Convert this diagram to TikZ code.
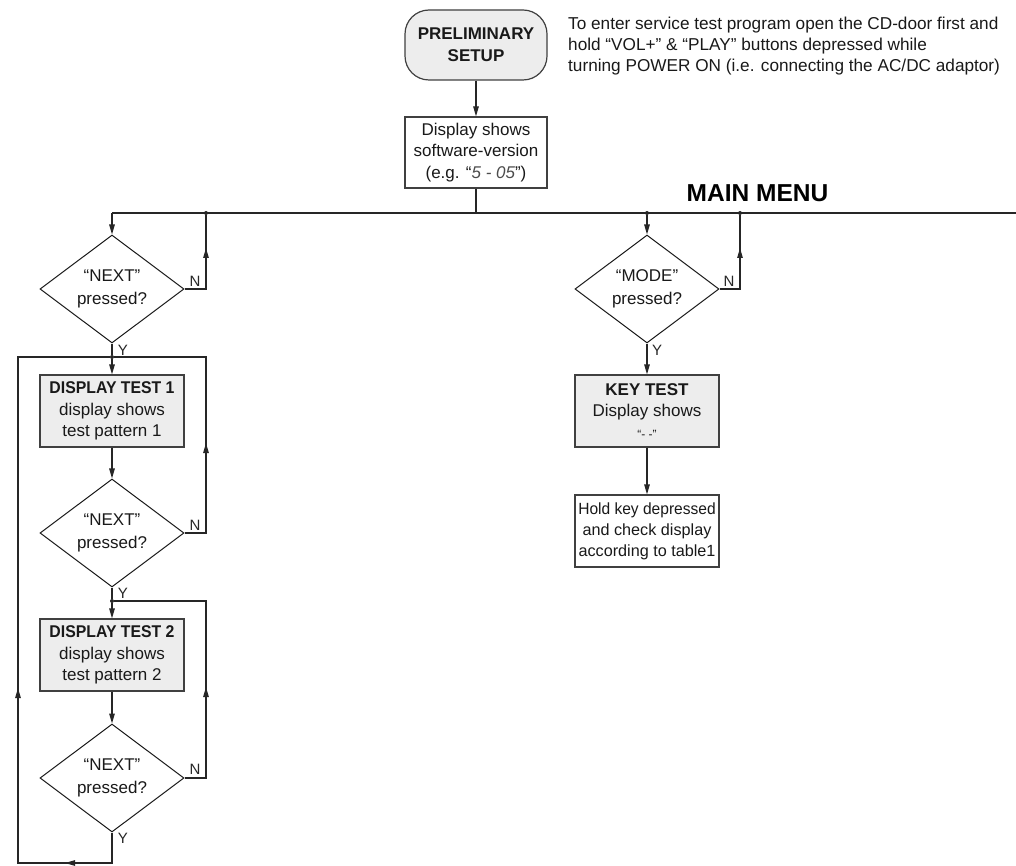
\documentclass[tikz,border=0pt]{standalone}
\usepackage{fontspec}
\setmainfont{Liberation Sans}
\usetikzlibrary{shapes.geometric,arrows.meta}
\begin{document}
\begin{tikzpicture}[x=1pt,y=-1pt,
  line/.style={draw=black!85,line width=1.2pt},
  arr/.style={line,-{Triangle[length=10pt,width=5.5pt]}},
  box/.style={draw=black!75,line width=1.2pt,minimum width=144pt,minimum height=72pt,inner sep=0pt,align=center,text=black!90,font=\fontsize{17}{21.5}\selectfont},
  gbox/.style={box,fill=black!7},
  dec/.style={diamond,draw=black!90,line width=1pt,minimum width=144pt,minimum height=108pt,aspect=1.333,inner sep=0pt,align=center,text=black!90,font=\fontsize{17}{23}\selectfont},
  lab/.style={font=\fontsize{15}{15}\selectfont,inner sep=0pt,text=black!85},
  dot/.style={circle,fill=black!85,inner sep=0pt,minimum size=4pt}
]
\useasboundingbox (0,0) rectangle (1016,866);

% top
\node[box,fill=black!7,rounded corners=24pt,minimum width=142pt,minimum height=70pt,font=\bfseries\fontsize{17}{22}\selectfont] (pre) at (476,45) {PRELIMINARY\\SETUP};
\node[box,minimum width=142pt,minimum height=71pt] (ver) at (476,152.5) {Display shows\\software-version\\(e.g. “{\itshape\color{black!70}5 - 05}”)};
\node[anchor=north west,inner sep=0pt,align=left,text=black!90,font=\fontsize{17.2}{21}\selectfont] (note) at (568,16.5) {To enter service test program open the CD-door first and\\hold “VOL+” \& “PLAY” buttons depressed while\\turning POWER ON (i.e. connecting the AC/DC adaptor)};
\node[font=\bfseries\fontsize{24.5}{26}\selectfont,anchor=base,inner sep=0pt] (mm) at (757.5,202) {MAIN MENU};

% bus
\coordinate (busL) at (112,213);
\coordinate (busR) at (1016,213);
\coordinate (busV) at (476,213);
\node[dot] (j1) at (206,213) {};
\node[dot] (j2) at (647,213) {};
\node[dot] (j3) at (740,213) {};

% left column
\node[dec] (d1) at (112,289) {“NEXT”\\pressed?};
\node[dot] (j4) at (112,357) {};
\node[gbox] (t1) at (112,411) {\scalebox{0.93}[1]{\bfseries DISPLAY TEST 1}\\display shows\\test pattern 1};
\node[dec] (d2) at (112,533) {“NEXT”\\pressed?};
\node[dot] (j5) at (112,601) {};
\node[gbox] (t2) at (112,655) {\scalebox{0.93}[1]{\bfseries DISPLAY TEST 2}\\display shows\\test pattern 2};
\node[dec] (d3) at (112,778) {“NEXT”\\pressed?};

% middle column
\node[dec] (dm) at (647,289) {“MODE”\\pressed?};
\node[gbox] (kt) at (647,411) {\textbf{KEY TEST}\\Display shows\\{\fontsize{12}{14}\selectfont “- -”}};
\node[box,font=\fontsize{16.2}{21}\selectfont] (hk) at (647,531) {\scalebox{0.96}[1]{Hold key depressed}\\and check display\\according to table1};

% connectors top
\draw[arr] (pre) -- (ver);
\draw[line] (ver) -- (busV);
\draw[line] (busL) -- (busR);

% d1
\draw[arr] (busL) -- (d1.north);
\coordinate (n1a) at (206,289);
\coordinate (n1m) at (206,248);
\draw[line] (d1.east) -- (n1a) -- (j1);
\draw[arr] (n1a) -- (n1m);
\draw[line] (d1.south) -- (j4);
\draw[arr] (j4) -- (t1.north);
\draw[arr] (t1) -- (d2);

% d2
\coordinate (n2a) at (206,533);
\coordinate (n2b) at (206,357);
\coordinate (n2m) at (206,443);
\draw[line] (d2.east) -- (n2a) -- (n2b) -- (j4);
\draw[arr] (n2a) -- (n2m);
\draw[line] (d2.south) -- (j5);
\draw[arr] (j5) -- (t2.north);
\draw[arr] (t2) -- (d3);

% d3
\coordinate (n3a) at (206,778);
\coordinate (n3b) at (206,601);
\coordinate (n3m) at (206,687);
\draw[line] (d3.east) -- (n3a) -- (n3b) -- (j5);
\draw[arr] (n3a) -- (n3m);
\coordinate (y3a) at (112,863);
\coordinate (y3b) at (18,863);
\coordinate (y3c) at (18,357);
\coordinate (y3m1) at (65,863);
\coordinate (y3m2) at (18,688);
\draw[line] (d3.south) -- (y3a) -- (y3b) -- (y3c) -- (j4);
\draw[arr] (y3a) -- (y3m1);
\draw[arr] (y3b) -- (y3m2);

% middle
\draw[arr] (j2) -- (dm.north);
\coordinate (nma) at (740,289);
\coordinate (nmm) at (740,248);
\draw[line] (dm.east) -- (nma) -- (j3);
\draw[arr] (nma) -- (nmm);
\draw[arr] (dm.south) -- (kt.north);
\draw[arr] (kt) -- (hk);

% labels
\node[lab] (N1) at (195,281) {N};
\node[lab] (Y1) at (123,350) {Y};
\node[lab] (N2) at (195,525) {N};
\node[lab] (Y2) at (123,593) {Y};
\node[lab] (N3) at (195,769) {N};
\node[lab] (Y3) at (123,838) {Y};
\node[lab] (NM) at (729,281) {N};
\node[lab] (YM) at (657,350) {Y};
\end{tikzpicture}
\end{document}
